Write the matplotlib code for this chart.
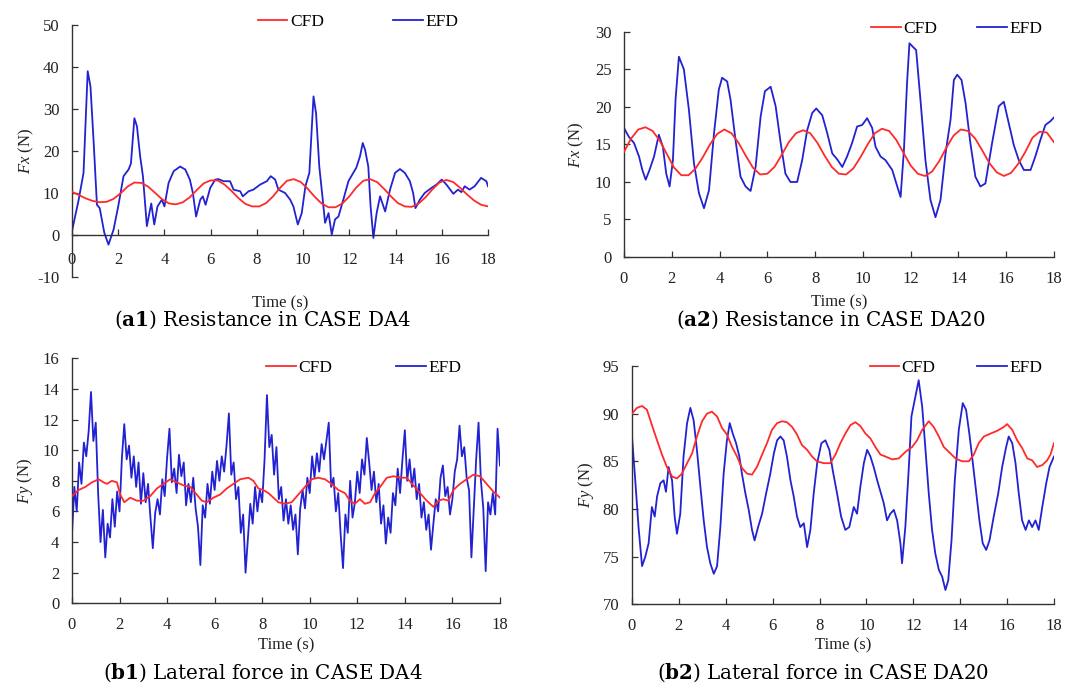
import numpy as np
import matplotlib
matplotlib.use('Agg')
import matplotlib.pyplot as plt

plt.rcParams['font.family'] = ['Liberation Serif', 'DejaVu Serif']
plt.rcParams['mathtext.fontset'] = 'custom'
plt.rcParams['mathtext.it'] = 'Liberation Serif:italic'
plt.rcParams['mathtext.rm'] = 'Liberation Serif'
plt.rcParams['mathtext.bf'] = 'DejaVu Serif:bold'
plt.rcParams['axes.unicode_minus'] = False

# ---- (a1) resistance, CASE DA4 ----
a1_cfd_t = [0, 0.3, 0.6, 0.9, 1.2, 1.5, 1.8, 2.1, 2.4, 2.7, 3.0, 3.3, 3.6, 3.9, 4.2, 4.5, 4.8, 5.1,
            5.4, 5.7, 6.0, 6.3, 6.6, 6.9, 7.2, 7.5, 7.8, 8.1, 8.4, 8.7, 9.0, 9.3, 9.6, 9.9, 10.2,
            10.5, 10.8, 11.1, 11.4, 11.7, 12.0, 12.3, 12.6, 12.9, 13.2, 13.5, 13.8, 14.1, 14.4,
            14.7, 15.0, 15.3, 15.6, 15.9, 16.2, 16.5, 16.8, 17.1, 17.4, 17.7, 18.0]
a1_cfd = [10.3, 9.5, 8.7, 8.1, 7.8, 7.9, 8.6, 9.9, 11.5, 12.5, 12.4, 11.5, 10.0, 8.5, 7.5, 7.3, 7.8, 9.0,
          10.7, 12.3, 13.0, 13.0, 12.0, 10.5, 8.8, 7.4, 6.8, 6.8, 7.6, 9.2, 11.2, 12.9, 13.3, 12.6, 11.0,
          9.1, 7.5, 6.6, 6.6, 7.5, 9.2, 11.3, 12.9, 13.3, 12.6, 11.0, 9.2, 7.6, 6.8,
          6.7, 7.5, 9.0, 10.9, 12.5, 13.1, 12.6, 11.2, 9.6, 8.2, 7.2, 6.8]
a1_efd_t = [0, 0.29, 0.5, 0.68, 0.8, 0.94, 1.08, 1.2, 1.4, 1.58, 1.8, 2.0, 2.23, 2.45, 2.55, 2.7, 2.81,
            2.95, 3.07, 3.24, 3.43, 3.56, 3.7, 3.89, 4.0, 4.18, 4.4, 4.68, 4.9, 5.1, 5.23, 5.37, 5.55,
            5.66, 5.78, 5.98, 6.2, 6.34, 6.56, 6.84, 6.99, 7.28, 7.39, 7.64, 7.85, 8.14, 8.43, 8.6,
            8.79, 8.93, 9.22, 9.44, 9.58, 9.77, 9.94, 10.1, 10.27, 10.45, 10.56, 10.7, 10.85, 10.95,
            11.1, 11.24, 11.38, 11.53, 11.74, 11.96, 12.17, 12.3, 12.46, 12.58, 12.68, 12.82, 12.92,
            13.04, 13.18, 13.33, 13.55, 13.76, 13.98, 14.19, 14.4, 14.62, 14.76, 14.86, 15.05, 15.26,
            15.55, 15.77, 16.0, 16.2, 16.5, 16.7, 16.85, 16.99, 17.2, 17.42, 17.7, 17.93, 18.0]
a1_efd = [0.9, 8.4, 14.8, 39.0, 35.4, 21.9, 7.2, 6.4, 0.5, -2.3, 1.3, 6.8, 14.0, 15.6, 17.0, 27.8, 25.9,
          18.7, 14.0, 2.1, 7.5, 2.5, 6.8, 8.4, 6.8, 12.4, 15.2, 16.3, 15.6, 13.2, 10.0, 4.4, 8.4,
          9.2, 7.2, 11.2, 13.2, 13.3, 12.8, 12.8, 10.8, 10.4, 9.2, 10.4, 10.8, 12.0, 12.8, 14.0,
          13.2, 10.8, 10.0, 8.4, 6.8, 2.5, 5.2, 11.6, 14.8, 33.0, 29.0, 16.3, 8.4, 2.9,
          5.2, 0.1, 3.7, 4.4, 8.4, 12.8, 14.8, 16.0, 18.7, 21.9, 20.3, 16.3, 6.8,
          -0.7, 5.2, 9.2, 5.6, 10.8, 14.8, 15.7, 14.8, 12.8, 10.0, 6.4, 8.4, 10.0,
          11.2, 12.0, 13.2, 12.0, 9.8, 10.8, 10.2, 11.6, 10.8, 11.6, 13.6, 12.8, 11.6]

# ---- (a2) resistance, CASE DA20 ----
a2_cfd_t = a1_cfd_t
a2_cfd = [14.0, 15.8, 17.0, 17.3, 16.8, 15.5, 13.7, 11.9, 10.9, 10.9, 11.8, 13.3, 15.0, 16.4, 17.0, 16.5,
          15.2, 13.5, 11.9, 11.0, 11.1, 12.0, 13.6, 15.3, 16.5, 16.9, 16.5, 15.2, 13.5, 12.0, 11.1,
          11.0, 11.8, 13.3, 15.0, 16.5, 17.1, 16.8, 15.6, 13.9, 12.2, 11.1, 10.8, 11.4, 12.8, 14.6,
          16.2, 17.0, 16.8, 15.8, 14.2, 12.5, 11.3, 10.8, 11.2, 12.4, 14.0, 15.9, 16.7, 16.6, 15.3]
a2_efd_t = [0, 0.21, 0.42, 0.63, 0.77, 0.91, 1.07, 1.26, 1.46, 1.63, 1.77, 1.91, 2.05, 2.16, 2.3, 2.51,
            2.72, 2.93, 3.14, 3.35, 3.56, 3.77, 3.97, 4.11, 4.32, 4.46, 4.67, 4.88, 5.09, 5.3, 5.51,
            5.72, 5.9, 6.14, 6.35, 6.56, 6.76, 6.97, 7.25, 7.46, 7.67, 7.88, 8.05, 8.3, 8.51, 8.72,
            8.93, 9.14, 9.34, 9.55, 9.76, 9.97, 10.18, 10.39, 10.53, 10.74, 10.95, 11.23, 11.44,
            11.58, 11.72, 11.85, 11.95, 12.13, 12.23, 12.41, 12.62, 12.83, 13.04, 13.25, 13.46,
            13.67, 13.81, 13.95, 14.13, 14.3, 14.5, 14.71, 14.92, 15.13, 15.41, 15.69, 15.9, 16.11,
            16.32, 16.53, 16.74, 17.02, 17.22, 17.43, 17.64, 17.85, 18.0]
a2_efd = [17.2, 16.0, 15.2, 13.4, 11.6, 10.3, 11.6, 13.4, 16.3, 14.7, 11.1, 9.4, 12.9, 21.0, 26.7, 25.0,
          19.6, 12.5, 8.5, 6.5, 8.9, 16.5, 22.3, 23.9, 23.4, 21.0, 15.6, 10.7, 9.4, 8.8, 12.0,
          18.7, 22.1, 22.7, 20.1, 15.2, 11.1, 10.0, 10.0, 12.9, 16.9, 19.2, 19.8, 18.9, 16.5, 13.8,
          13.0, 12.0, 13.4, 15.2, 17.4, 17.6, 18.5, 17.2, 14.7, 13.4, 12.9, 11.6, 9.4,
          8.0, 14.3, 23.2, 28.5, 27.9, 27.6, 21.0, 12.9, 7.6, 5.3, 7.6, 13.8,
          18.3, 23.6, 24.3, 23.6, 20.5, 15.2, 10.7, 9.4, 9.8, 15.2, 20.1, 20.7, 17.8,
          14.9, 12.9, 11.6, 11.6, 13.4, 15.6, 17.6, 18.1, 18.6]

# ---- (b1) lateral force, CASE DA4 ----
b1_cfd_t = [0, 0.28, 0.56, 0.84, 1.12, 1.33, 1.47, 1.68, 1.89, 2.03, 2.2, 2.45, 2.73, 3.01, 3.29, 3.57,
            3.85, 4.13, 4.41, 4.69, 4.97, 5.25, 5.46, 5.67, 5.95, 6.23, 6.51, 6.79, 7.07, 7.42, 7.63,
            7.84, 8.05, 8.26, 8.47, 8.68, 8.96, 9.24, 9.52, 9.8, 10.08, 10.36, 10.64, 10.92, 11.2,
            11.48, 11.69, 11.9, 12.11, 12.32, 12.54, 12.75, 12.96, 13.24, 13.52, 13.8, 14.08, 14.36,
            14.64, 14.92, 15.2, 15.41, 15.62, 15.83, 16.04, 16.32, 16.6, 16.88, 17.16, 17.44, 17.72, 18.0]
b1_cfd = [7.0, 7.4, 7.6, 7.9, 8.1, 7.9, 7.8, 8.0, 7.9, 7.1, 6.6, 6.9, 6.7, 6.7, 7.0, 7.5,
          7.8, 8.1, 7.9, 7.7, 7.6, 7.1, 6.7, 6.6, 6.9, 7.1, 7.5, 7.8, 8.1, 8.2, 8.0,
          7.5, 7.4, 7.2, 6.9, 6.6, 6.5, 6.6, 7.1, 7.6, 8.1, 8.2, 8.1, 7.8, 7.4,
          7.2, 6.7, 6.5, 6.8, 6.5, 6.6, 7.2, 7.6, 8.2, 8.3, 8.2, 8.2, 7.7,
          7.2, 6.7, 6.3, 6.7, 6.8, 6.7, 7.4, 7.8, 8.1, 8.4, 8.3, 7.8, 7.3, 6.9]
# sampled every 0.1 s
b1_efd = [4.5, 7.6, 6.0, 9.2, 7.8, 10.5, 9.6, 11.2, 13.8, 10.6,
          11.8, 7.2, 4.0, 6.1, 3.0, 5.2, 4.3, 6.8, 5.0, 7.3,
          6.0, 9.5, 11.7, 9.4, 10.3, 8.2, 9.6, 7.6, 9.2, 6.5,
          8.5, 6.6, 7.8, 5.6, 3.6, 5.9, 6.8, 5.8, 8.1, 7.0,
          9.5, 11.4, 7.9, 8.8, 7.2, 9.7, 8.3, 9.2, 6.4, 7.8,
          6.6, 8.2, 6.2, 5.0, 2.5, 6.4, 5.6, 7.8, 6.5, 8.6,
          7.4, 9.3, 8.0, 9.6, 8.6, 10.3, 12.4, 8.4, 9.2, 6.8,
          7.6, 4.6, 5.8, 2.0, 4.2, 6.5, 5.2, 7.6, 6.0, 7.4,
          6.6, 9.4, 13.6, 10.2, 11.0, 8.4, 10.2, 6.8, 7.6, 5.4,
          6.8, 5.2, 6.4, 4.8, 5.8, 3.2, 6.2, 7.4, 6.2, 8.2,
          7.2, 9.6, 8.2, 9.8, 8.6, 10.4, 9.4, 10.6, 11.8, 7.6,
          8.2, 6.0, 7.2, 4.5, 2.3, 5.8, 4.6, 8.0, 5.6, 6.6,
          8.6, 7.2, 9.4, 8.4, 10.8, 9.2, 7.4, 8.6, 6.6, 7.8,
          5.2, 6.4, 3.9, 5.6, 4.6, 7.2, 6.4, 8.8, 7.2, 9.4,
          11.3, 8.0, 9.4, 7.6, 8.8, 6.8, 7.8, 5.6, 6.6, 4.8,
          5.8, 3.5, 5.2, 6.8, 6.0, 8.2, 9.0, 7.0, 7.6, 5.8,
          6.8, 8.6, 9.4, 11.6, 9.6, 10.2, 8.2, 7.4, 3.0, 6.2,
          9.4, 11.8, 8.0, 6.2, 2.1, 6.6, 5.8, 7.2, 5.8, 11.4,
          9.0]
b1_efd_t = np.round(np.arange(len(b1_efd)) * 0.1, 1)

# ---- (b2) lateral force, CASE DA20 ----
b2_cfd_t = [0, 0.21, 0.43, 0.64, 0.85, 1.07, 1.28, 1.49, 1.71, 1.92, 2.13, 2.35, 2.56, 2.77, 2.99, 3.2,
            3.41, 3.63, 3.84, 4.05, 4.27, 4.48, 4.69, 4.91, 5.12, 5.33, 5.55, 5.76, 5.97, 6.19, 6.4,
            6.61, 6.83, 7.04, 7.25, 7.47, 7.68, 7.89, 8.18, 8.46, 8.68, 8.89, 9.1, 9.32, 9.53, 9.74,
            9.96, 10.17, 10.38, 10.6, 10.81, 11.1, 11.38, 11.67, 11.95, 12.16, 12.38, 12.66, 12.87,
            13.09, 13.3, 13.51, 13.8, 14.08, 14.37, 14.58, 14.79, 15.01, 15.29, 15.58, 15.86, 16.0,
            16.22, 16.43, 16.64, 16.86, 17.07, 17.28, 17.5, 17.71, 17.85, 18.0]
b2_cfd = [90.0, 90.6, 90.8, 90.4, 88.8, 87.2, 85.7, 84.4, 83.4, 83.2, 83.7, 84.8, 85.8, 87.6, 89.2, 90.0,
          90.2, 89.7, 88.5, 87.8, 86.5, 85.5, 84.3, 83.7, 83.6, 84.4, 85.7, 86.9, 88.3, 89.0, 89.2,
          89.1, 88.6, 87.8, 86.7, 86.2, 85.5, 85.0, 84.8, 84.8, 85.7, 86.9, 87.9, 88.8, 89.1, 88.7,
          87.9, 87.4, 86.5, 85.7, 85.5, 85.2, 85.3, 86.0, 86.5, 87.2, 88.3, 89.2, 88.6,
          87.6, 86.5, 86.0, 85.3, 85.0, 85.0, 85.7, 86.9, 87.6, 87.9, 88.2, 88.6, 88.9,
          88.3, 87.2, 86.4, 85.3, 85.1, 84.4, 84.6, 85.1, 85.7, 86.9]
b2_efd_t = [0, 0.14, 0.28, 0.43, 0.57, 0.71, 0.85, 0.97, 1.07, 1.21, 1.35, 1.45, 1.56, 1.71, 1.82, 1.92,
            2.06, 2.2, 2.35, 2.49, 2.63, 2.77, 2.92, 3.06, 3.2, 3.34, 3.49, 3.63, 3.77, 3.91, 4.05,
            4.17, 4.3, 4.44, 4.58, 4.69, 4.84, 4.98, 5.12, 5.23, 5.38, 5.55, 5.72, 5.9, 6.05, 6.19,
            6.33, 6.47, 6.61, 6.76, 6.9, 7.04, 7.18, 7.33, 7.47, 7.61, 7.75, 7.9, 8.08, 8.25, 8.42,
            8.56, 8.75, 8.92, 9.1, 9.27, 9.46, 9.6, 9.74, 9.89, 10.03, 10.17, 10.31, 10.46, 10.6,
            10.74, 10.88, 11.02, 11.17, 11.31, 11.45, 11.52, 11.66, 11.81, 11.92, 12.09, 12.23,
            12.38, 12.52, 12.66, 12.8, 12.94, 13.09, 13.23, 13.37, 13.49, 13.63, 13.77, 13.94,
            14.11, 14.25, 14.39, 14.54, 14.68, 14.82, 14.96, 15.11, 15.25, 15.43, 15.62, 15.79,
            15.96, 16.07, 16.22, 16.36, 16.5, 16.64, 16.79, 16.93, 17.07, 17.21, 17.35, 17.5,
            17.67, 17.81, 18.0]
b2_efd = [87.6, 83.0, 78.1, 74.0, 75.0, 76.4, 80.2, 79.2, 81.3, 82.7, 83.0, 81.8, 84.4, 83.0, 79.2, 77.4,
          79.5, 85.5, 89.0, 90.6, 89.3, 86.2, 82.3, 78.8, 76.0, 74.3, 73.2, 74.0, 78.1, 83.7, 87.2,
          89.0, 87.9, 86.9, 85.5, 83.7, 81.6, 79.9, 77.8, 76.7, 78.1, 79.5, 81.6, 83.7, 85.8, 87.2,
          87.6, 87.2, 85.5, 83.0, 81.3, 79.2, 78.1, 78.5, 76.0, 77.8, 81.6, 84.8, 86.9, 87.2, 86.2,
          84.1, 81.6, 79.2, 77.8, 78.1, 80.2, 79.5, 82.3, 84.8, 86.2, 85.5, 84.4, 83.0, 81.8,
          80.6, 78.8, 79.5, 79.9, 78.8, 76.4, 74.3, 78.1, 84.4, 89.7, 91.8, 93.5,
          90.7, 86.2, 81.6, 77.8, 75.3, 73.6, 72.9, 71.5, 72.5, 76.7, 83.0, 88.3,
          91.1, 90.4, 87.9, 84.8, 81.8, 78.8, 76.4, 75.7, 76.7, 79.2, 81.6, 84.4,
          86.5, 87.6, 86.9, 84.8, 81.6, 78.8, 77.8, 78.8, 78.1, 78.8, 77.8, 80.2,
          82.7, 84.4, 85.5]

time_ticks = list(range(0, 19, 2))
cfd_color = '#ff2a2a'
efd_color = '#2222d2'

panels = [
    # rect, data, ylim, yticks, ylabel, legend anchor, colspacing, xtick pad, xlabel y,
    # caption (tag, text), caption pos
    ([0.0664, 0.5974, 0.3838, 0.3663], (a1_cfd_t, a1_cfd, a1_efd_t, a1_efd), (-10, 50),
     range(-10, 51, 10), r'$Fx$ (N)', (0.688, 1.012), 4.0, 12, -0.103,
     ('a1', 'Resistance in CASE DA4'), (263, 320)),
    ([0.5756, 0.6265, 0.3967, 0.3270], (a2_cfd_t, a2_cfd, a2_efd_t, a2_efd), (0, 30),
     range(0, 31, 5), r'$Fx$ (N)', (0.774, 1.013), 2.3, 10, -0.204,
     ('a2', 'Resistance in CASE DA20'), (831, 320)),
    ([0.0664, 0.1231, 0.3948, 0.3561], (b1_cfd_t, b1_cfd, b1_efd_t, b1_efd), (0, 16),
     range(0, 17, 2), r'$Fy$ (N)', (0.682, 0.961), 3.7, 10, -0.170,
     ('b1', 'Lateral force in CASE DA4'), (263, 673)),
    ([0.5830, 0.1217, 0.3893, 0.3464], (b2_cfd_t, b2_cfd, b2_efd_t, b2_efd), (70, 95),
     range(70, 96, 5), r'$Fy$ (N)', (0.768, 0.992), 2.4, 10, -0.171,
     ('b2', 'Lateral force in CASE DA20'), (823, 673)),
]

fig = plt.figure(figsize=(10.84, 6.88), dpi=100)
W, H = 1084, 688

for (rect, (ct, cv, et, ev), ylim, yticks, ylab, leg_xy, colsp, xpad, xlab_y,
     (tag, cap), cap_xy) in panels:
    ax = fig.add_axes(rect)
    ax.plot(ct, cv, color=cfd_color, lw=1.3, label='CFD', zorder=3)
    ax.plot(et, ev, color=efd_color, lw=1.3, label='EFD', zorder=2)
    ax.set_xlim(0, 18)
    ax.set_ylim(*ylim)
    ax.set_xticks(time_ticks)
    ax.set_yticks(list(yticks))
    for s in ['top', 'right']:
        ax.spines[s].set_visible(False)
    for s in ['left', 'bottom']:
        ax.spines[s].set_color('#333333')
        ax.spines[s].set_linewidth(1.0)
    if ylim[0] < 0:
        ax.spines['bottom'].set_position(('data', 0))
    ax.tick_params(axis='both', direction='in', length=4, width=0.9, color='#333333',
                   labelsize=12, labelcolor='#222222')
    ax.tick_params(axis='x', pad=xpad)
    ax.tick_params(axis='y', pad=9)
    ax.set_xlabel('Time (s)', fontsize=12, color='#222222', va='center')
    ax.xaxis.set_label_coords(0.5, xlab_y)
    ax.set_ylabel(ylab, fontsize=12, color='#222222', va='center', ha='center')
    ax.yaxis.set_label_coords(-0.11, 0.5)
    ax.legend(loc='center', bbox_to_anchor=leg_xy, ncol=2, frameon=False, fontsize=12.5,
              handlelength=1.7, handletextpad=0.15, columnspacing=colsp)
    fig.text(cap_xy[0] / W, 1 - cap_xy[1] / H, '(' + r'$\mathbf{' + tag + '}$' + ') ' + cap,
             ha='center', va='center', fontsize=14.3, family='DejaVu Serif')

fig.savefig('out.png', dpi=100)
